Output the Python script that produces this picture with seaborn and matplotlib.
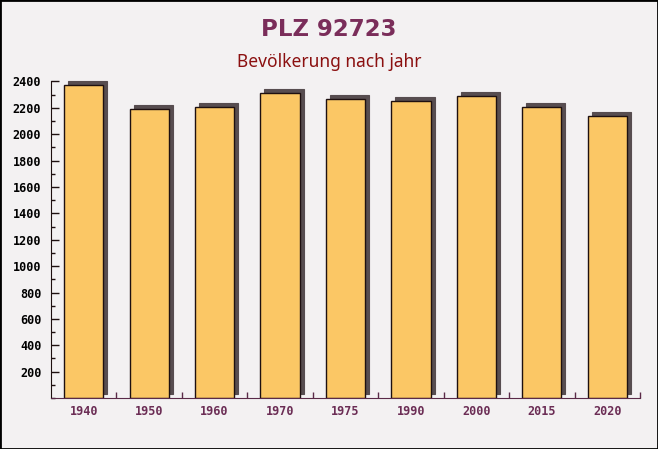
import matplotlib
matplotlib.use("Agg")
import matplotlib.pyplot as plt
import matplotlib.transforms as mtransforms
from matplotlib.patches import Rectangle
from matplotlib.ticker import MultipleLocator, FixedLocator
import seaborn as sns
import pandas as pd

years = ["1940", "1950", "1960", "1970", "1975", "1990", "2000", "2015", "2020"]
population = [2370, 2190, 2210, 2310, 2270, 2250, 2290, 2210, 2140]
yticks = [200, 400, 600, 800, 1000, 1200, 1400, 1600, 1800, 2000, 2200, 2400]
title = "PLZ 92723"
subtitle = "Bevölkerung nach jahr"

df = pd.DataFrame({"year": years, "population": population})

sns.set_style("white")
plt.rcParams["xtick.direction"] = "in"
plt.rcParams["ytick.direction"] = "in"
fig = plt.figure(figsize=(6.58, 4.49), dpi=100)
fig.patch.set_facecolor("#f3f1f2")
ax = fig.add_axes([51 / 658, 51 / 449, 589 / 658, 316.5 / 449])
ax.set_facecolor("none")

sns.barplot(data=df, x="year", y="population", ax=ax, color="#fbc765",
            width=0.6, saturation=1, edgecolor="#1e1010", linewidth=1.0,
            zorder=3)

# 3D-like shadow bars derived from the drawn bars (offset up-right)
offset = mtransforms.ScaledTranslation(4 / 100, 4 / 100, fig.dpi_scale_trans)
for p in list(ax.patches):
    sh = Rectangle((p.get_x(), p.get_y()), p.get_width(), p.get_height(),
                   facecolor="#574d50", edgecolor="#574d50", linewidth=0.8,
                   transform=ax.transData + offset, zorder=2, clip_on=False)
    ax.add_patch(sh)

ax.set_ylim(0, 2400)
ax.set_xlim(-0.5, len(years) - 0.5)
ax.set_xlabel("")
ax.set_ylabel("")

for s in ["top", "right"]:
    ax.spines[s].set_visible(False)
ax.spines["left"].set_color("#1e1010")
ax.spines["bottom"].set_color("#5a2a48")
ax.spines["left"].set_zorder(5)
ax.spines["bottom"].set_zorder(5)

ax.yaxis.set_major_locator(FixedLocator(yticks))
ax.yaxis.set_minor_locator(MultipleLocator(100))
ax.tick_params(axis="y", which="major", direction="in", length=6, width=1,
               color="#1e1010", labelsize=8.5, labelcolor="black", pad=7,
               left=True)
ax.tick_params(axis="y", which="minor", direction="in", length=3, width=1,
               color="#1e1010", left=True)
ax.xaxis.set_minor_locator(FixedLocator([i + 0.5 for i in range(len(years))]))
ax.tick_params(axis="x", which="major", length=0, labelsize=8.5,
               labelcolor="#6b2d55", pad=5)
ax.tick_params(axis="x", which="minor", direction="in", length=4, width=1,
               color="#5a2a48", bottom=True)
for lab in ax.get_xticklabels() + ax.get_yticklabels():
    lab.set_fontfamily("DejaVu Sans Mono")
    lab.set_fontweight("bold")

fig.text(0.5, 1 - 29 / 449, title, ha="center", va="center", fontsize=16.5,
         fontweight="bold", color="#7a2d5a", family="DejaVu Sans")
fig.text(0.5, 1 - 62 / 449, subtitle, ha="center", va="center", fontsize=12.5,
         color="#8b1010", family="Noto Sans")

border = Rectangle((0, 0), 1, 1, transform=fig.transFigure, fill=False,
                   edgecolor="black", linewidth=2)
fig.patches.append(border)

fig.savefig("out.png", dpi=100, facecolor=fig.get_facecolor())
